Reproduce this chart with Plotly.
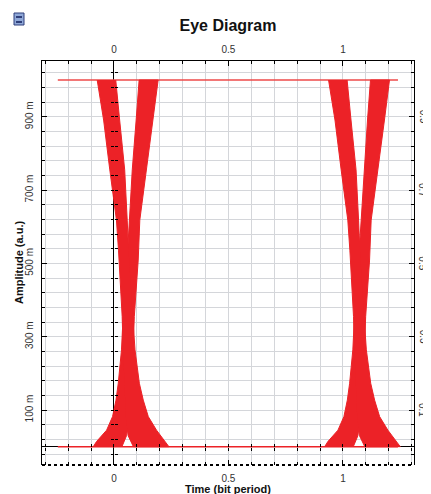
import plotly.graph_objects as go

# ---------------- data ----------------
X_RANGE = [-0.314, 1.31]
Y_RANGE = [-0.05, 1.052]

X_TICKS = [0, 0.5, 1]
X_TICK_TEXT = ["0", "0.5", "1"]
Y_TICKS = [0.1, 0.3, 0.5, 0.7, 0.9]
Y_TICK_TEXT_LEFT = ["100 m", "300 m", "500 m", "700 m", "900 m"]
Y_TICK_TEXT_RIGHT = ["0.1", "0.3", "0.5", "0.7", "0.9"]

# logical levels and the span of the flat traces
LEVEL_HIGH = 1.0
LEVEL_LOW = 0.0
LEVEL_T = [-0.245, 1.24]

# start time of each eye crossing (bit period units)
EYE_OFFSETS = [0.0, 1.01]

# rising bundle envelope (amplitude, time) - left and right edges
RISE_LEFT_Y = [0.0, 0.014, 0.045, 0.082, 0.127, 0.173, 0.264, 0.355, 0.446, 0.545, 0.618, 0.755, 0.891, 1.0]
RISE_LEFT_T = [-0.09, -0.076, -0.032, -0.006, 0.009, 0.019, 0.033, 0.040, 0.052, 0.062, 0.068, 0.080, 0.097, 0.110]
RISE_RIGHT_Y = [0.0, 0.03, 0.08, 0.15, 0.25, 0.355, 0.446, 0.509, 0.618, 0.755, 0.891, 1.0]
RISE_RIGHT_T = [0.035, 0.055, 0.066, 0.075, 0.083, 0.089, 0.099, 0.106, 0.113, 0.142, 0.171, 0.193]

# falling bundle envelope (amplitude, time) - left and right edges
FALL_LEFT_Y = [1.0, 0.891, 0.755, 0.618, 0.536, 0.446, 0.355, 0.25, 0.15, 0.08, 0.03, 0.0]
FALL_LEFT_T = [-0.073, -0.045, -0.018, 0.011, 0.020, 0.029, 0.036, 0.041, 0.046, 0.052, 0.062, 0.085]
FALL_RIGHT_Y = [1.0, 0.891, 0.755, 0.618, 0.545, 0.446, 0.355, 0.264, 0.173, 0.127, 0.082, 0.045, 0.014, 0.0]
FALL_RIGHT_T = [0.008, 0.025, 0.047, 0.058, 0.063, 0.072, 0.082, 0.092, 0.111, 0.128, 0.150, 0.186, 0.223, 0.24]

# ---------------- style / layout ----------------
RED = "#EC2227"
RED_LIGHT = "#EE4A4A"
GRID = "#D4D6DA"
FONT = "Liberation Sans, Arial, sans-serif"
W, H = 431, 494
PAGE_OFF = 8                      # default body margin of the html page
REF_L, REF_T, REF_R, REF_B = 42, 61, 414, 465   # plot area in page pixels
PW, PH = REF_R - REF_L, REF_B - REF_T
ML, MT = REF_L - PAGE_OFF, REF_T - PAGE_OFF
MR, MB = W - ML - PW, H - MT - PH


def px_x(px):
    return (px - REF_L) / PW


def px_y(py):
    return (REF_B - py) / PH


fig = go.Figure()

# flat "one" and "zero" levels
fig.add_trace(go.Scatter(x=LEVEL_T, y=[LEVEL_HIGH, LEVEL_HIGH], mode="lines",
                         line=dict(color=RED_LIGHT, width=1.5), hoverinfo="skip", showlegend=False))
fig.add_trace(go.Scatter(x=LEVEL_T, y=[LEVEL_LOW, LEVEL_LOW], mode="lines",
                         line=dict(color=RED, width=1.5), hoverinfo="skip", showlegend=False))

# transition bundles
for off in EYE_OFFSETS:
    for lt, ly, rt, ry in [
        (RISE_LEFT_T, RISE_LEFT_Y, RISE_RIGHT_T, RISE_RIGHT_Y),
        (FALL_LEFT_T, FALL_LEFT_Y, FALL_RIGHT_T, FALL_RIGHT_Y),
    ]:
        xs = [t + off for t in lt] + [t + off for t in reversed(rt)]
        ys = list(ly) + list(reversed(ry))
        fig.add_trace(go.Scatter(x=xs, y=ys, mode="lines", fill="toself",
                                 fillcolor=RED, line=dict(color=RED, width=1),
                                 hoverinfo="skip", showlegend=False))

# helper traces to create overlay axes
for xa, ya in [("x2", "y"), ("x", "y2"), ("x3", "y"), ("x4", "y"), ("x", "y3"), ("x", "y4")]:
    fig.add_trace(go.Scatter(x=[], y=[], xaxis=xa, yaxis=ya, showlegend=False, hoverinfo="skip"))

tickfont = dict(family=FONT, size=10, color="#333333")

x_common = dict(range=X_RANGE, tickvals=X_TICKS, ticktext=X_TICK_TEXT, tickfont=tickfont,
                ticks="inside", ticklen=5, tickcolor="black", automargin=False)
y_common = dict(range=Y_RANGE, tickvals=Y_TICKS, tickfont=tickfont,
                ticks="inside", ticklen=5, tickcolor="black", automargin=False)

y0_frac = (0 - Y_RANGE[0]) / (Y_RANGE[1] - Y_RANGE[0])
x0_frac = (0 - X_RANGE[0]) / (X_RANGE[1] - X_RANGE[0])

free_common = dict(showline=False, showgrid=False, zeroline=False, showticklabels=False,
                   ticks="outside", ticklen=3, tickcolor="black", automargin=False)

# right-hand tick labels
right_labels = [
    dict(text=txt, x=px_x(423), y=val, xref="paper", yref="y", xanchor="center", yanchor="middle",
         textangle=90, showarrow=False, font=tickfont)
    for val, txt in zip(Y_TICKS, Y_TICK_TEXT_RIGHT)
]

fig.update_layout(
    template="none",
    width=W, height=H,
    margin=dict(l=ML, r=MR, t=MT, b=MB, pad=0, autoexpand=False),
    paper_bgcolor="white", plot_bgcolor="white",
    font=dict(family=FONT, color="#222222"),
    title=dict(text="<b>Eye Diagram</b>", x=0.5, xref="paper", y=1 - (25 - PAGE_OFF) / H, yref="container",
               xanchor="center", yanchor="middle", font=dict(size=16, color="#111111", family=FONT)),
    xaxis=dict(**x_common, side="bottom", showline=False, showgrid=True, gridcolor=GRID, gridwidth=1,
               zeroline=True, zerolinecolor="black", zerolinewidth=1, ticklabelstandoff=6,
               minor=dict(dtick=0.1, tick0=0, ticks="inside", ticklen=3, tickcolor="black",
                          showgrid=True, gridcolor=GRID)),
    xaxis2=dict(**x_common, side="top", overlaying="x", anchor="y", showline=True, linecolor="black",
                linewidth=1, showgrid=False, zeroline=False, ticklabelstandoff=3,
                minor=dict(dtick=0.1, tick0=0, ticks="inside", ticklen=3, tickcolor="black")),
    xaxis3=dict(range=X_RANGE, overlaying="x", anchor="free", position=y0_frac, side="bottom",
                dtick=0.1, tick0=0, **free_common),
    xaxis4=dict(range=X_RANGE, overlaying="x", anchor="free", position=y0_frac, side="top",
                dtick=0.1, tick0=0, **free_common),
    yaxis=dict(**y_common, ticktext=Y_TICK_TEXT_LEFT, side="left", tickangle=-90,
               showline=True, linecolor="black", linewidth=1, showgrid=True, gridcolor=GRID,
               zeroline=True, zerolinecolor="black", zerolinewidth=1, ticklabelstandoff=4,
               minor=dict(dtick=0.04, tick0=0.02, ticks="inside", ticklen=3, tickcolor="black",
                          showgrid=True, gridcolor=GRID)),
    yaxis2=dict(**y_common, side="right", overlaying="y", anchor="x", showticklabels=False,
                showline=True, linecolor="black", linewidth=1, showgrid=False, zeroline=False,
                minor=dict(dtick=0.04, tick0=0.02, ticks="inside", ticklen=3, tickcolor="black")),
    yaxis3=dict(range=Y_RANGE, overlaying="y", anchor="free", position=x0_frac, side="left",
                dtick=0.04, tick0=0.02, **free_common),
    yaxis4=dict(range=Y_RANGE, overlaying="y", anchor="free", position=x0_frac, side="right",
                dtick=0.04, tick0=0.02, **free_common),
    annotations=[
        dict(text="<b>Time (bit period)</b>", x=0.5, y=px_y(489), xref="paper", yref="paper",
             xanchor="center", yanchor="middle", showarrow=False,
             font=dict(size=11, color="#111111", family=FONT)),
        dict(text="<b>Amplitude (a.u.)</b>", x=px_x(19), y=0.5, xref="paper", yref="paper",
             xanchor="center", yanchor="middle", textangle=-90, showarrow=False,
             font=dict(size=11, color="#111111", family=FONT)),
    ] + right_labels,
    shapes=[
        # dotted bottom frame
        dict(type="line", xref="paper", yref="paper", x0=0, x1=1, y0=0, y1=0,
             line=dict(color="black", width=2, dash="dot")),
        # small window icon at top-left
        dict(type="rect", xref="paper", yref="paper", x0=px_x(14), x1=px_x(24), y0=px_y(25), y1=px_y(13),
             fillcolor="#8FA8D8", line=dict(color="#2F3F7A", width=1)),
        dict(type="rect", xref="paper", yref="paper", x0=px_x(16), x1=px_x(22), y0=px_y(18), y1=px_y(16),
             fillcolor="#2F3F7A", line=dict(width=0)),
        dict(type="rect", xref="paper", yref="paper", x0=px_x(16), x1=px_x(22), y0=px_y(23), y1=px_y(21),
             fillcolor="#2F3F7A", line=dict(width=0)),
    ],
)

fig.write_html("out.html")
